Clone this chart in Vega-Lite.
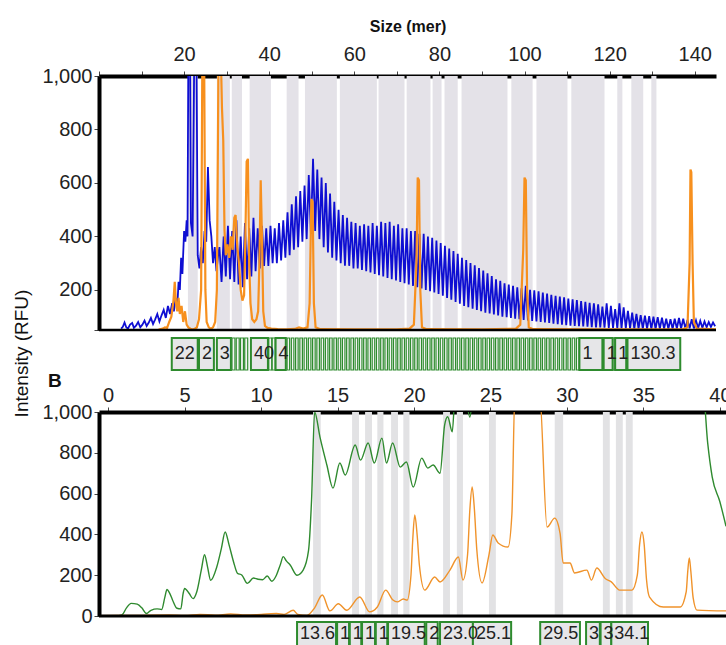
{
"$schema": "https://vega.github.io/schema/vega-lite/v6.json",
"padding": {"left": 12, "top": 18, "right": 0, "bottom": 0},
"title": {"text": "Intensity (RFU)", "orient": "left", "anchor": "middle", "fontSize": 19, "fontWeight": "normal", "font": "Liberation Sans", "color": "#111", "offset": 10, "dx": -22},
"config": {
 "font": "Liberation Sans",
 "view": {"stroke": null},
 "axis": {"labelFont": "Liberation Sans", "labelFontSize": 20, "labelColor": "#222", "domainColor": "#000", "domainWidth": 4, "tickColor": "#444", "tickWidth": 1, "tickSize": 5, "labelPadding": 2, "grid": false, "titleFont": "Liberation Sans", "labelOverlap": false}
},
"spacing": 0,
"bounds": "flush",
"resolve": {"scale": {"x": "independent", "y": "independent"}},
"datasets": {
 "bandsTop": [{"a":20.9,"b":23.2},{"a":27.7,"b":30.75},{"a":31.2,"b":33.6},{"a":35.4,"b":40.4},{"a":44.1,"b":46.9},{"a":48.4,"b":55.9},{"a":56.6,"b":65.3},{"a":65.7,"b":71.8},{"a":72.3,"b":77.9},{"a":78.4,"b":80.5},{"a":81.2,"b":84.3},{"a":85.2,"b":96.0},{"a":96.9,"b":101.9},{"a":102.8,"b":110.1},{"a":111.0,"b":118.8},{"a":121.8,"b":123.0},{"a":125.1,"b":127.9},{"a":129.8,"b":131.0}],
 "blue": [{"s":5.2,"v":55},{"s":5.6,"v":62},{"s":6,"v":78},{"s":6.4,"v":60},{"s":6.8,"v":55},{"s":7.3,"v":70},{"s":7.8,"v":76},{"s":8.2,"v":58},{"s":8.7,"v":66},{"s":9.2,"v":80},{"s":9.7,"v":60},{"s":10.2,"v":70},{"s":10.7,"v":85},{"s":11.2,"v":65},{"s":11.7,"v":78},{"s":12.2,"v":95},{"s":12.7,"v":72},{"s":13.2,"v":90},{"s":13.7,"v":110},{"s":14.2,"v":82},{"s":14.7,"v":105},{"s":15.2,"v":125},{"s":15.7,"v":95},{"s":16.2,"v":140},{"s":16.7,"v":110},{"s":17.2,"v":150},{"s":17.6,"v":120},{"s":18,"v":170},{"s":18.4,"v":140},{"s":18.7,"v":230},{"s":19,"v":200},{"s":19.3,"v":320},{"s":19.6,"v":260},{"s":20,"v":420},{"s":20.3,"v":380},{"s":20.6,"v":460},{"s":20.8,"v":400},{"s":21.0,"v":1100},{"s":21.4,"v":1100},{"s":21.6,"v":450},{"s":22.0,"v":400},{"s":22.4,"v":1100},{"s":22.9,"v":1100},{"s":23.2,"v":330},{"s":23.6,"v":280},{"s":24.0,"v":360},{"s":24.4,"v":300},{"s":24.8,"v":420},{"s":25.2,"v":380},{"s":25.6,"v":660},{"s":26.0,"v":460},{"s":26.4,"v":400},{"s":26.8,"v":300},{"s":27.2,"v":360},{"s":27.6,"v":270},{"s":28.0,"v":330},
 {"s":28.3,"v":360},{"s":28.8,"v":230},{"s":29.3,"v":400},{"s":29.8,"v":250},{"s":30.3,"v":440},{"s":30.8,"v":240},{"s":31.3,"v":420},{"s":31.8,"v":230},{"s":32.3,"v":460},{"s":32.8,"v":220},{"s":33.3,"v":400},{"s":33.8,"v":210},{"s":34.3,"v":450},{"s":34.8,"v":240},{"s":35.3,"v":430},{"s":35.8,"v":250},{"s":36.3,"v":470},{"s":36.8,"v":270},{"s":37.3,"v":430},{"s":37.8,"v":280},{"s":38.3,"v":440},{"s":38.8,"v":290},{"s":39.3,"v":430},{"s":39.8,"v":290},{"s":40.3,"v":440},{"s":40.8,"v":300},{"s":41.3,"v":430},{"s":41.8,"v":300},{"s":42.3,"v":450},{"s":42.8,"v":310},{"s":43.3,"v":460},{"s":43.8,"v":320},{"s":44.3,"v":490},{"s":44.8,"v":330},{"s":45.3,"v":520},{"s":45.8,"v":350},{"s":46.3,"v":550},{"s":46.8,"v":360},{"s":47.3,"v":570},{"s":47.8,"v":380},{"s":48.3,"v":590},{"s":48.8,"v":390},{"s":49.3,"v":630},{"s":49.8,"v":410},{"s":50.3,"v":690},{"s":50.8,"v":420},{"s":51.3,"v":650},{"s":51.8,"v":390},{"s":52.3,"v":620},{"s":52.8,"v":360},{"s":53.3,"v":600},{"s":53.8,"v":340},{"s":54.3,"v":560},{"s":54.8,"v":320},{"s":55.3,"v":530},{"s":55.8,"v":310},{"s":56.3,"v":500},{"s":56.8,"v":300},{"s":57.3,"v":480},{"s":57.8,"v":290},{"s":58.3,"v":470},{"s":58.8,"v":290},{"s":59.3,"v":455},{"s":59.8,"v":280},{"s":60.3,"v":450},{"s":60.8,"v":280},{"s":61.3,"v":440},{"s":61.8,"v":275},{"s":62.3,"v":445},{"s":62.8,"v":270},{"s":63.3,"v":440},{"s":63.8,"v":265},{"s":64.3,"v":450},{"s":64.8,"v":260},{"s":65.3,"v":440},{"s":65.8,"v":255},{"s":66.3,"v":455},{"s":66.8,"v":250},{"s":67.3,"v":450},{"s":67.8,"v":245},{"s":68.3,"v":455},{"s":68.8,"v":240},{"s":69.3,"v":440},{"s":69.8,"v":235},{"s":70.3,"v":445},{"s":70.8,"v":230},{"s":71.3,"v":430},{"s":71.8,"v":225},{"s":72.3,"v":430},{"s":72.8,"v":220},{"s":73.3,"v":420},{"s":73.8,"v":215},{"s":74.3,"v":420},{"s":74.8,"v":210},{"s":75.3,"v":410},{"s":75.8,"v":205},{"s":76.3,"v":410},{"s":76.8,"v":200},{"s":77.3,"v":400},{"s":77.8,"v":195},{"s":78.3,"v":395},{"s":78.8,"v":190},{"s":79.3,"v":385},{"s":79.8,"v":185},{"s":80.3,"v":375},{"s":80.8,"v":178},{"s":81.3,"v":365},{"s":81.8,"v":170},{"s":82.3,"v":355},{"s":82.8,"v":163},{"s":83.3,"v":345},{"s":83.8,"v":155},{"s":84.3,"v":335},{"s":84.8,"v":148},{"s":85.3,"v":320},{"s":85.8,"v":140},{"s":86.3,"v":312},{"s":86.8,"v":135},{"s":87.3,"v":300},{"s":87.8,"v":130},{"s":88.3,"v":292},{"s":88.8,"v":125},{"s":89.3,"v":282},{"s":89.8,"v":120},{"s":90.3,"v":272},{"s":90.8,"v":115},{"s":91.3,"v":262},{"s":91.8,"v":112},{"s":92.3,"v":252},{"s":92.8,"v":108},{"s":93.3,"v":240},{"s":93.8,"v":104},{"s":94.3,"v":234},{"s":94.8,"v":100},{"s":95.3,"v":225},{"s":95.8,"v":98},{"s":96.3,"v":220},{"s":96.8,"v":95},{"s":97.3,"v":215},{"s":97.8,"v":92},{"s":98.3,"v":210},{"s":98.8,"v":90},{"s":99.3,"v":206},{"s":99.8,"v":88},{"s":100.3,"v":215},{"s":100.8,"v":86},{"s":101.3,"v":200},{"s":101.8,"v":84},{"s":102.3,"v":198},{"s":102.8,"v":82},{"s":103.3,"v":195},{"s":103.8,"v":80},{"s":104.3,"v":190},{"s":104.8,"v":78},{"s":105.3,"v":186},{"s":105.8,"v":76},{"s":106.3,"v":182},{"s":106.8,"v":74},{"s":107.3,"v":178},{"s":107.8,"v":72},{"s":108.3,"v":175},{"s":108.8,"v":70},{"s":109.3,"v":172},{"s":109.8,"v":68},{"s":110.3,"v":168},{"s":110.8,"v":66},{"s":111.3,"v":165},{"s":111.8,"v":65},{"s":112.3,"v":162},{"s":112.8,"v":64},{"s":113.3,"v":158},{"s":113.8,"v":63},{"s":114.3,"v":155},{"s":114.8,"v":62},{"s":115.3,"v":152},{"s":115.8,"v":61},{"s":116.3,"v":150},{"s":116.8,"v":60},{"s":117.3,"v":146},{"s":117.8,"v":60},{"s":118.3,"v":138},{"s":118.8,"v":59},{"s":119.3,"v":150},{"s":119.8,"v":58},{"s":120.3,"v":140},{"s":120.8,"v":58},{"s":121.3,"v":128},{"s":121.8,"v":57},{"s":122.3,"v":150},{"s":122.8,"v":57},{"s":123.3,"v":135},{"s":123.8,"v":56},{"s":124.3,"v":122},{"s":124.8,"v":56},{"s":125.3,"v":115},{"s":125.8,"v":55},{"s":126.3,"v":110},{"s":126.8,"v":55},{"s":127.3,"v":106},{"s":127.8,"v":55},{"s":128.3,"v":104},{"s":128.8,"v":54},{"s":129.3,"v":102},{"s":129.8,"v":54},{"s":130.3,"v":100},{"s":130.8,"v":54},{"s":131.3,"v":98},{"s":131.8,"v":54},{"s":132.3,"v":96},{"s":132.8,"v":54},{"s":133.3,"v":92},{"s":133.8,"v":54},{"s":134.3,"v":90},{"s":134.8,"v":54},{"s":135.3,"v":92},{"s":135.8,"v":55},{"s":136.3,"v":95},{"s":136.8,"v":55},{"s":137.3,"v":92},{"s":137.8,"v":55},{"s":138.3,"v":88},{"s":138.8,"v":56},{"s":139.3,"v":90},{"s":139.8,"v":56},{"s":140.3,"v":86},{"s":140.8,"v":57},{"s":141.3,"v":84},{"s":141.8,"v":58},{"s":142.3,"v":82},{"s":142.8,"v":60},{"s":143.3,"v":80},{"s":143.8,"v":62},{"s":144.3,"v":78},{"s":144.8,"v":64}],
 "orangeTop": [{"s":14,"v":52},{"s":15,"v":55},{"s":15.5,"v":60},{"s":16,"v":58},{"s":16.5,"v":80},{"s":17,"v":100},{"s":17.5,"v":160},{"s":17.8,"v":230},{"s":18.1,"v":150},{"s":18.4,"v":120},{"s":18.7,"v":170},{"s":19,"v":110},{"s":19.4,"v":140},{"s":19.8,"v":80},{"s":20.2,"v":120},{"s":20.6,"v":70},{"s":21,"v":60},{"s":21.5,"v":55},{"s":22,"v":52},{"s":22.5,"v":55},{"s":23,"v":60},{"s":23.5,"v":90},{"s":24,"v":200},{"s":24.3,"v":1100},{"s":24.7,"v":1100},{"s":25,"v":200},{"s":25.3,"v":80},{"s":25.8,"v":60},{"s":26.3,"v":55},{"s":26.8,"v":60},{"s":27.3,"v":80},{"s":27.7,"v":200},{"s":28.1,"v":1100},{"s":28.6,"v":1100},{"s":28.9,"v":880},{"s":29.2,"v":760},{"s":29.5,"v":420},{"s":29.8,"v":330},{"s":30.2,"v":370},{"s":30.6,"v":320},{"s":31,"v":400},{"s":31.4,"v":350},{"s":31.8,"v":470},{"s":32.1,"v":480},{"s":32.5,"v":360},{"s":32.9,"v":300},{"s":33.3,"v":200},{"s":33.7,"v":160},{"s":34.1,"v":180},{"s":34.4,"v":400},{"s":34.7,"v":680},{"s":35,"v":690},{"s":35.3,"v":300},{"s":35.6,"v":150},{"s":36,"v":90},{"s":36.5,"v":80},{"s":37,"v":90},{"s":37.4,"v":120},{"s":37.7,"v":300},{"s":38,"v":610},{"s":38.3,"v":400},{"s":38.6,"v":120},{"s":39,"v":65},{"s":39.6,"v":58},{"s":40.5,"v":55},{"s":42,"v":53},{"s":44,"v":52},{"s":46,"v":54},{"s":47,"v":60},{"s":48,"v":55},{"s":49,"v":60},{"s":49.5,"v":150},{"s":49.9,"v":540},{"s":50.2,"v":530},{"s":50.5,"v":150},{"s":50.9,"v":60},{"s":52,"v":53},{"s":60,"v":52},{"s":70,"v":52},{"s":73,"v":55},{"s":74,"v":70},{"s":74.6,"v":300},{"s":74.9,"v":620},{"s":75.2,"v":610},{"s":75.5,"v":200},{"s":75.9,"v":60},{"s":77,"v":53},{"s":90,"v":52},{"s":98,"v":55},{"s":99,"v":70},{"s":99.7,"v":350},{"s":100,"v":620},{"s":100.3,"v":610},{"s":100.6,"v":200},{"s":101,"v":60},{"s":102,"v":53},{"s":115,"v":52},{"s":130,"v":52},{"s":137,"v":52},{"s":138.3,"v":60},{"s":138.8,"v":300},{"s":139,"v":650},{"s":139.2,"v":640},{"s":139.5,"v":300},{"s":139.8,"v":80},{"s":140.5,"v":55},{"s":145,"v":52}],
 "boxesTop": [{"a":17.1,"b":23.2,"t":"22"},{"a":23.5,"b":27.0,"t":"2"},{"a":27.7,"b":31.0,"t":"3"},{"a":35.7,"b":39.7,"t":"40"},{"a":41.5,"b":43.9,"t":"4"},{"a":112.9,"b":118.3,"t":"1"},{"a":118.6,"b":120.7,"t":"1"},{"a":121.3,"b":123.9,"t":"1"},{"a":124.2,"b":136.6,"t":"130.3"}],
 "narrowTop": [{"a":31.25,"b":31.95},{"a":32.25,"b":32.95},{"a":33.25,"b":33.95},{"a":34.25,"b":34.95},{"a":39.9,"b":40.6},{"a":40.7,"b":41.4},{"a":44.2,"b":44.8},{"a":45.2,"b":45.8},{"a":46.2,"b":46.8},{"a":47.2,"b":47.8},{"a":48.2,"b":48.8},{"a":49.2,"b":49.8},{"a":50.2,"b":50.8},{"a":51.2,"b":51.8},{"a":52.2,"b":52.8},{"a":53.2,"b":53.8},{"a":54.2,"b":54.8},{"a":55.2,"b":55.8},{"a":56.2,"b":56.8},{"a":57.2,"b":57.8},{"a":58.2,"b":58.8},{"a":59.2,"b":59.8},{"a":60.2,"b":60.8},{"a":61.2,"b":61.8},{"a":62.2,"b":62.8},{"a":63.2,"b":63.8},{"a":64.2,"b":64.8},{"a":65.2,"b":65.8},{"a":66.2,"b":66.8},{"a":67.2,"b":67.8},{"a":68.2,"b":68.8},{"a":69.2,"b":69.8},{"a":70.2,"b":70.8},{"a":71.2,"b":71.8},{"a":72.2,"b":72.8},{"a":73.2,"b":73.8},{"a":74.2,"b":74.8},{"a":75.2,"b":75.8},{"a":76.2,"b":76.8},{"a":77.2,"b":77.8},{"a":78.2,"b":78.8},{"a":79.2,"b":79.8},{"a":80.2,"b":80.8},{"a":81.2,"b":81.8},{"a":82.2,"b":82.8},{"a":83.2,"b":83.8},{"a":84.2,"b":84.8},{"a":85.2,"b":85.8},{"a":86.2,"b":86.8},{"a":87.2,"b":87.8},{"a":88.2,"b":88.8},{"a":89.2,"b":89.8},{"a":90.2,"b":90.8},{"a":91.2,"b":91.8},{"a":92.2,"b":92.8},{"a":93.2,"b":93.8},{"a":94.2,"b":94.8},{"a":95.2,"b":95.8},{"a":96.2,"b":96.8},{"a":97.2,"b":97.8},{"a":98.2,"b":98.8},{"a":99.2,"b":99.8},{"a":100.2,"b":100.8},{"a":101.2,"b":101.8},{"a":102.2,"b":102.8},{"a":103.2,"b":103.8},{"a":104.2,"b":104.8},{"a":105.2,"b":105.8},{"a":106.2,"b":106.8},{"a":107.2,"b":107.8},{"a":108.2,"b":108.8},{"a":109.2,"b":109.8},{"a":110.2,"b":110.8},{"a":111.2,"b":111.8},{"a":112.2,"b":112.8},{"a":120.75,"b":121.25}],
 "bandsBot": [{"a":13.4,"b":13.9},{"a":15.95,"b":16.4},{"a":16.8,"b":17.25},{"a":17.6,"b":18.0},{"a":18.5,"b":18.95},{"a":19.3,"b":19.7},{"a":21.9,"b":22.35},{"a":22.8,"b":23.2},{"a":24.9,"b":25.35},{"a":29.2,"b":29.75},{"a":32.35,"b":32.8},{"a":33.2,"b":33.65},{"a":33.85,"b":34.3}],
 "green": [{"s":-0.6,"v":0},{"s":0.5,"v":0},{"s":0.9,"v":5},{"s":1.2,"v":40},{"s":1.5,"v":62},{"s":1.9,"v":58},{"s":2.2,"v":40},{"s":2.5,"v":12},{"s":2.8,"v":28},{"s":3.2,"v":35},{"s":3.5,"v":32},{"s":3.7,"v":90},{"s":3.85,"v":130},{"s":4.0,"v":115},{"s":4.2,"v":80},{"s":4.5,"v":38},{"s":4.75,"v":35},{"s":4.9,"v":110},{"s":5.0,"v":135},{"s":5.3,"v":110},{"s":5.55,"v":85},{"s":5.8,"v":120},{"s":6.1,"v":230},{"s":6.3,"v":300},{"s":6.5,"v":240},{"s":6.7,"v":175},{"s":7.1,"v":240},{"s":7.4,"v":330},{"s":7.65,"v":412},{"s":7.9,"v":350},{"s":8.2,"v":265},{"s":8.45,"v":210},{"s":8.75,"v":200},{"s":9.1,"v":160},{"s":9.5,"v":186},{"s":9.8,"v":180},{"s":10.1,"v":178},{"s":10.4,"v":196},{"s":10.7,"v":170},{"s":11.0,"v":200},{"s":11.25,"v":250},{"s":11.45,"v":291},{"s":11.65,"v":270},{"s":11.9,"v":250},{"s":12.35,"v":200},{"s":12.75,"v":225},{"s":13.1,"v":320},{"s":13.3,"v":570},{"s":13.5,"v":1000},{"s":13.85,"v":877},{"s":14.3,"v":740},{"s":14.7,"v":627},{"s":15.15,"v":750},{"s":15.5,"v":691},{"s":16.15,"v":838},{"s":16.5,"v":764},{"s":17.0,"v":848},{"s":17.4,"v":750},{"s":17.9,"v":872},{"s":18.2,"v":750},{"s":18.6,"v":848},{"s":19.1,"v":730},{"s":19.5,"v":755},{"s":19.95,"v":632},{"s":20.5,"v":774},{"s":20.9,"v":725},{"s":21.25,"v":740},{"s":21.7,"v":700},{"s":22.0,"v":936},{"s":22.2,"v":977},{"s":22.5,"v":903},{"s":22.7,"v":1100},{"s":23.3,"v":1100},{"s":23.65,"v":975},{"s":23.9,"v":1100},{"s":38.9,"v":1100},{"s":39.2,"v":850},{"s":39.5,"v":681},{"s":40.0,"v":560},{"s":40.4,"v":440}],
 "orangeBot": [{"s":-0.6,"v":2},{"s":2,"v":3},{"s":4,"v":5},{"s":5,"v":3},{"s":6,"v":8},{"s":7,"v":4},{"s":8,"v":10},{"s":9,"v":5},{"s":10,"v":8},{"s":11,"v":12},{"s":11.5,"v":8},{"s":12.1,"v":28},{"s":12.4,"v":8},{"s":13.0,"v":3},{"s":13.5,"v":40},{"s":14.0,"v":103},{"s":14.5,"v":25},{"s":15.05,"v":60},{"s":15.6,"v":28},{"s":16.45,"v":93},{"s":17.1,"v":20},{"s":17.6,"v":44},{"s":18.15,"v":127},{"s":18.6,"v":80},{"s":18.9,"v":69},{"s":19.3,"v":83},{"s":19.55,"v":78},{"s":19.8,"v":200},{"s":19.92,"v":380},{"s":20.05,"v":495},{"s":20.2,"v":400},{"s":20.35,"v":250},{"s":20.7,"v":127},{"s":21.35,"v":191},{"s":21.7,"v":167},{"s":22.35,"v":225},{"s":22.9,"v":289},{"s":23.2,"v":176},{"s":23.5,"v":300},{"s":23.65,"v":520},{"s":23.8,"v":632},{"s":23.95,"v":520},{"s":24.1,"v":330},{"s":24.45,"v":162},{"s":24.9,"v":300},{"s":25.15,"v":397},{"s":25.5,"v":358},{"s":26.15,"v":338},{"s":26.4,"v":500},{"s":26.6,"v":1100},{"s":28.2,"v":1100},{"s":28.7,"v":436},{"s":29.2,"v":480},{"s":29.55,"v":405},{"s":29.75,"v":260},{"s":30.2,"v":260},{"s":30.5,"v":211},{"s":31.3,"v":225},{"s":31.6,"v":176},{"s":31.95,"v":235},{"s":32.5,"v":184},{"s":32.9,"v":167},{"s":33.45,"v":127},{"s":34.25,"v":127},{"s":34.6,"v":200},{"s":34.75,"v":350},{"s":34.9,"v":412},{"s":35.05,"v":350},{"s":35.2,"v":180},{"s":35.4,"v":93},{"s":36.3,"v":44},{"s":37.4,"v":44},{"s":37.8,"v":120},{"s":37.9,"v":220},{"s":38.0,"v":284},{"s":38.1,"v":220},{"s":38.25,"v":90},{"s":38.5,"v":29},{"s":40.4,"v":25}],
 "boxesBot": [{"a":12.35,"b":14.9,"t":"13.6"},{"a":14.97,"b":15.75,"t":"1"},{"a":15.8,"b":16.55,"t":"1"},{"a":16.6,"b":17.45,"t":"1"},{"a":17.5,"b":18.25,"t":"1"},{"a":18.3,"b":20.7,"t":"19.5"},{"a":20.8,"b":21.55,"t":"2"},{"a":21.7,"b":23.85,"t":"23.0"},{"a":23.85,"b":26.35,"t":"25.1"},{"a":28.25,"b":30.85,"t":"29.5"},{"a":31.25,"b":32.15,"t":"3"},{"a":32.2,"b":32.9,"t":"3"},{"a":32.9,"b":35.3,"t":"34.1"}]
},
"vconcat": [
 {
  "width": 617, "height": 254,
  "layer": [
   {"data": {"name": "bandsTop"}, "mark": {"type": "rect", "color": "#e4e2e8"},
    "encoding": {
     "x": {"field": "a", "type": "quantitative", "scale": {"domain": [0, 145], "nice": false, "zero": false},
       "axis": {"orient": "top", "values": [0,5,10,15,20,25,30,35,40,45,50,55,60,65,70,75,80,85,90,95,100,105,110,115,120,125,130,135,140,145], "format": ".0f", "labelExpr": "datum.value % 20 === 0 && datum.value > 0 ? datum.label : ''", "title": "Size (mer)", "titleFontSize": 16, "titleFontWeight": "bold", "titleColor": "#111", "titlePadding": 10, "labelPadding": 7, "labelFlush": false, "labelOverlap": false}},
     "x2": {"field": "b"},
     "y": {"datum": 50, "type": "quantitative", "scale": {"domain": [50, 1000], "nice": false, "zero": false},
       "axis": {"values": [50,80,120,160,200,250,300,350,400,450,500,550,600,650,700,750,800,850,900,950,1000], "format": ",.0f", "labelExpr": "indexof(['200','400','600','800','1,000'], datum.label) >= 0 ? datum.label : ''", "title": null, "labelOverlap": false}},
     "y2": {"datum": 1000}
    }},
   {"data": {"name": "blue"}, "mark": {"type": "line", "color": "#0e0ed2", "strokeWidth": 1.8, "clip": true},
    "encoding": {"x": {"field": "s", "type": "quantitative"}, "y": {"field": "v", "type": "quantitative"}}},
   {"data": {"name": "orangeTop"}, "mark": {"type": "line", "color": "#f7901e", "strokeWidth": 2.2, "clip": true},
    "encoding": {"x": {"field": "s", "type": "quantitative"}, "y": {"field": "v", "type": "quantitative"}}},
   {"data": {"values": [{}]}, "mark": {"type": "rule", "color": "#000", "strokeWidth": 2.5},
    "encoding": {"x": {"datum": 0}, "x2": {"datum": 145}, "y": {"datum": 50}}}
  ]
 },
 {
  "width": 617, "height": 82,
  "layer": [
   {"data": {"name": "narrowTop"}, "mark": {"type": "rect", "fill": "#f4f4f4", "stroke": "#2e8b2e", "strokeWidth": 1.2},
    "encoding": {
     "x": {"field": "a", "type": "quantitative", "scale": {"domain": [0, 145], "nice": false, "zero": false}, "axis": null},
     "x2": {"field": "b"},
     "y": {"datum": 74, "type": "quantitative", "scale": {"domain": [0, 82], "nice": false, "zero": false}, "axis": null},
     "y2": {"datum": 42}
    }},
   {"data": {"name": "boxesTop"}, "mark": {"type": "rect", "fill": "#e6e6e8", "stroke": "#2e8b2e", "strokeWidth": 2},
    "encoding": {"x": {"field": "a", "type": "quantitative"}, "x2": {"field": "b"}, "y": {"datum": 74}, "y2": {"datum": 42}}},
   {"data": {"name": "boxesTop"}, "mark": {"type": "text", "align": "left", "baseline": "middle", "dx": 3, "fontSize": 18, "color": "#222"},
    "encoding": {"x": {"field": "a", "type": "quantitative"}, "y": {"datum": 58}, "text": {"field": "t"}}},
   {"data": {"values": [{}]}, "mark": {"type": "text", "text": "B", "fontWeight": "bold", "fontSize": 19, "align": "left", "baseline": "middle", "color": "#111"},
    "encoding": {"x": {"datum": -12}, "y": {"datum": 31}}}
  ]
 },
 {
  "width": 627, "height": 204,
  "layer": [
   {"data": {"name": "bandsBot"}, "mark": {"type": "rect", "color": "#e2e2e4"},
    "encoding": {
     "x": {"field": "a", "type": "quantitative", "scale": {"domain": [-0.6, 40.4], "nice": false, "zero": false},
       "axis": {"orient": "top", "values": [0,1.25,2.5,3.75,5,6.25,7.5,8.75,10,11.25,12.5,13.75,15,16.25,17.5,18.75,20,21.25,22.5,23.75,25,26.25,27.5,28.75,30,31.25,32.5,33.75,35,36.25,37.5,38.75,40], "format": ".0f", "labelExpr": "datum.value % 5 === 0 ? datum.label : ''", "title": null, "labelFlush": false, "labelOverlap": false}},
     "x2": {"field": "b"},
     "y": {"datum": 0, "type": "quantitative", "scale": {"domain": [0, 1000], "nice": false, "zero": false},
       "axis": {"values": [0,50,100,150,200,250,300,350,400,450,500,550,600,650,700,750,800,850,900,950,1000], "format": ",.0f", "labelExpr": "indexof(['0','200','400','600','800','1,000'], datum.label) >= 0 ? datum.label : ''", "title": null, "labelOverlap": false}},
     "y2": {"datum": 1000}
    }},
   {"data": {"name": "green"}, "mark": {"type": "line", "color": "#2f8a2f", "strokeWidth": 1.4, "clip": true, "interpolate": "monotone"},
    "encoding": {"x": {"field": "s", "type": "quantitative"}, "y": {"field": "v", "type": "quantitative"}}},
   {"data": {"name": "orangeBot"}, "mark": {"type": "line", "color": "#f0932b", "strokeWidth": 1.4, "clip": true, "interpolate": "monotone"},
    "encoding": {"x": {"field": "s", "type": "quantitative"}, "y": {"field": "v", "type": "quantitative"}}},
   {"data": {"values": [{}]}, "mark": {"type": "rule", "color": "#000", "strokeWidth": 3},
    "encoding": {"x": {"datum": -0.6}, "x2": {"datum": 40.4}, "y": {"datum": 0}}}
  ]
 },
 {
  "width": 627, "height": 29,
  "layer": [
   {"data": {"name": "boxesBot"}, "mark": {"type": "rect", "fill": "#e6e6e8", "stroke": "#2e8b2e", "strokeWidth": 2, "clip": true},
    "encoding": {
     "x": {"field": "a", "type": "quantitative", "scale": {"domain": [-0.6, 40.4], "nice": false, "zero": false}, "axis": null},
     "x2": {"field": "b"},
     "y": {"datum": 23, "type": "quantitative", "scale": {"domain": [0, 29], "nice": false, "zero": false}, "axis": null},
     "y2": {"datum": -6}
    }},
   {"data": {"name": "boxesBot"}, "mark": {"type": "text", "align": "left", "baseline": "middle", "dx": 3, "fontSize": 18, "color": "#222"},
    "encoding": {"x": {"field": "a", "type": "quantitative"}, "y": {"datum": 11}, "text": {"field": "t"}}}
  ]
 }
]
}
